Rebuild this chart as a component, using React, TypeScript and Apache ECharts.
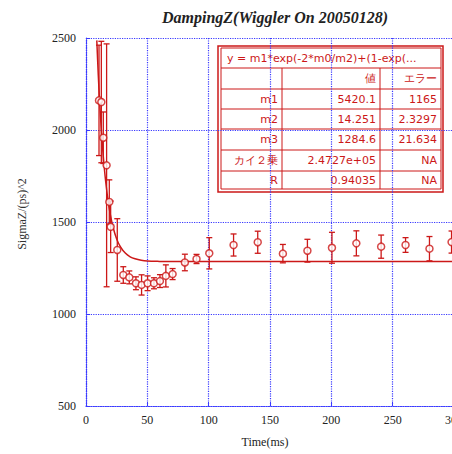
import React, { useEffect, useRef } from "react";
import * as echarts from "echarts";

const TITLE = "DampingZ(Wiggler On 20050128)";
const X_NAME = "Time(ms)";
const Y_NAME = "SigmaZ/(ps)^2";

// measured points
const times = [10.6, 12.5, 14.1, 16.8, 19, 20.1, 25.5, 30.4, 35.3, 40.7, 45.3, 50.2, 55.4, 60.3, 65.1, 70.6, 80.6, 90.1, 100.5, 120.3, 140, 160.5, 180.5, 200.5, 220.4, 240.6, 260.5, 280, 298];
const sigmaZ = [2161, 2152, 1958, 1808, 1609, 1474, 1348, 1212, 1199, 1167, 1158, 1167, 1167, 1179, 1207, 1217, 1280, 1299, 1330, 1375, 1390, 1328, 1344, 1360, 1384, 1366, 1375, 1355, 1391];
const errors = [300, 330, 140, 660, 120, 140, 170, 45, 35, 35, 55, 40, 30, 35, 60, 30, 45, 25, 85, 60, 60, 50, 62, 84, 68, 63, 40, 66, 60];

// fit curve
const fitT = [8.8, 10, 11, 12, 13, 14, 15, 16, 18, 20, 22, 25, 28, 32, 36, 40, 45, 50, 60, 70, 100, 150, 200, 250, 300];
const fitV = [2487, 2301, 2168, 2052, 1952, 1864, 1788, 1723, 1615, 1534, 1473, 1408, 1366, 1331, 1311, 1300, 1292, 1288, 1286, 1285, 1285, 1285, 1285, 1285, 1285];

const xTicks = [0, 50, 100, 150, 200, 250, 300];
const yTicks = [500, 1000, 1500, 2000, 2500];

// fit result table
const fitFormula = "y = m1*exp(-2*m0/m2)+(1-exp(...";
const tableHeader = ["", "値", "エラー"];
const paramNames = ["m1", "m2", "m3", "カイ２乗", "R"];
const paramValues = ["5420.1", "14.251", "1284.6", "2.4727e+05", "0.94035"];
const paramErrors = ["1165", "2.3297", "21.634", "NA", "NA"];

const RED = "#cc1818";
const BLUE = "#3a3aff";
const SERIF = "'Liberation Serif', 'DejaVu Serif', serif";

export default function App() {
  const ref = useRef<HTMLDivElement>(null);
  useEffect(() => {
    if (!ref.current) return;
    const chart = echarts.init(ref.current, null, { renderer: "svg" });

    const pts = times.map((t, i) => [t, sigmaZ[i]]);
    const errData = times.map((t, i) => [t, sigmaZ[i] - errors[i], sigmaZ[i] + errors[i]]);
    const fitData = fitT.map((t, i) => [t, fitV[i]]);

    // table graphics
    const tx0 = 218, tx1 = 443, ty0 = 46, ty1 = 192;
    const ix0 = 221, ix1 = 441, iy0 = 48, iy1 = 189;
    const col1 = 282, col2 = 380;
    const rows = [68, 89, 109, 129, 150, 171, 189];
    const g: any[] = [];
    g.push({ type: "rect", shape: { x: tx0, y: ty0, width: tx1 - tx0, height: ty1 - ty0 }, style: { fill: "#fff", stroke: RED, lineWidth: 1.5 } });
    g.push({ type: "rect", shape: { x: ix0, y: iy0, width: ix1 - ix0, height: iy1 - iy0 }, style: { fill: "none", stroke: RED, lineWidth: 1 } });
    for (let r = 0; r < rows.length - 1; r++) {
      g.push({ type: "line", shape: { x1: ix0, y1: rows[r], x2: ix1, y2: rows[r] }, style: { stroke: RED, lineWidth: 1 } });
    }
    [col1, col2].forEach((cx) => g.push({ type: "line", shape: { x1: cx, y1: rows[0], x2: cx, y2: iy1 }, style: { stroke: RED, lineWidth: 1 } }));
    const tFont = { fontFamily: "'DejaVu Sans', sans-serif", fontSize: 11, fill: RED };
    g.push({ type: "text", x: 227, y: (iy0 + rows[0]) / 2, style: { ...tFont, text: fitFormula, textAlign: "left", textVerticalAlign: "middle" } });
    const rowTexts = [tableHeader, ...paramNames.map((n, i) => [n, paramValues[i], paramErrors[i]])];
    rowTexts.forEach((cells, r) => {
      const cy = (rows[r] + rows[r + 1]) / 2;
      const xs = [col1 - 4, col2 - 4, ix1 - 4];
      cells.forEach((c, k) => {
        if (!c) return;
        g.push({ type: "text", x: xs[k], y: cy, style: { ...tFont, text: c, textAlign: "right", textVerticalAlign: "middle" } });
      });
    });
    // axis names
    g.push({ type: "text", x: 265, y: 442, style: { text: X_NAME, fontFamily: SERIF, fontSize: 12, fill: "#222", textAlign: "center", textVerticalAlign: "middle" } });
    g.push({ type: "text", x: 22, y: 214, rotation: Math.PI / 2, style: { text: Y_NAME, fontFamily: SERIF, fontSize: 12, fill: "#333", textAlign: "center", textVerticalAlign: "middle" } });

    const axisStyle = { color: BLUE, type: "dotted" as const, width: 1.2 };

    chart.setOption({
      animation: false,
      backgroundColor: "#fff",
      title: {
        text: TITLE,
        left: 270,
        textAlign: "center",
        top: 4,
        textStyle: { fontFamily: SERIF, fontStyle: "italic", fontWeight: "bold", fontSize: 16, color: "#222" },
      },
      grid: { left: 86, top: 38, width: 368, height: 368, outerBoundsMode: "none", containLabel: false },
      xAxis: {
        type: "value",
        min: xTicks[0],
        max: xTicks[xTicks.length - 1],
        interval: 50,
        axisLine: { show: true, lineStyle: axisStyle },
        axisTick: { show: true, inside: true, length: 4, lineStyle: { color: BLUE } },
        splitLine: { show: true, lineStyle: axisStyle },
        axisLabel: { fontFamily: SERIF, fontSize: 12, color: "#222", margin: 8, formatter: (v: number) => String(v) },
      },
      yAxis: {
        type: "value",
        min: yTicks[0],
        max: yTicks[yTicks.length - 1],
        interval: 500,
        axisLine: { show: true, lineStyle: axisStyle },
        axisTick: { show: true, inside: true, length: 4, lineStyle: { color: BLUE } },
        splitLine: { show: true, lineStyle: axisStyle },
        axisLabel: { fontFamily: SERIF, fontSize: 12, color: "#222", margin: 10, formatter: (v: number) => String(v) },
      },
      series: [
        {
          type: "line",
          data: fitData,
          showSymbol: false,
          smooth: 0.3,
          lineStyle: { color: RED, width: 1.5 },
          z: 2,
        },
        {
          type: "custom",
          data: errData,
          z: 3,
          renderItem: (params: any, api: any) => {
            const x = api.value(0);
            const lo = api.coord([x, api.value(1)]);
            const hi = api.coord([x, api.value(2)]);
            const w = 3;
            return {
              type: "group",
              children: [
                { type: "line", shape: { x1: lo[0], y1: lo[1], x2: hi[0], y2: hi[1] }, style: { stroke: RED, lineWidth: 1.3 } },
                { type: "line", shape: { x1: lo[0] - w, y1: lo[1], x2: lo[0] + w, y2: lo[1] }, style: { stroke: RED, lineWidth: 1.3 } },
                { type: "line", shape: { x1: hi[0] - w, y1: hi[1], x2: hi[0] + w, y2: hi[1] }, style: { stroke: RED, lineWidth: 1.3 } },
              ],
            };
          },
        },
        {
          type: "scatter",
          data: pts,
          symbol: "circle",
          symbolSize: 7,
          itemStyle: { color: "#fff", borderColor: RED, borderWidth: 1.5 },
          z: 4,
        },
      ],
      graphic: g,
    });
    return () => chart.dispose();
  }, []);
  return <div ref={ref} style={{ width: 452, height: 454, position: "absolute", left: 0, top: 0 }} />;
}
